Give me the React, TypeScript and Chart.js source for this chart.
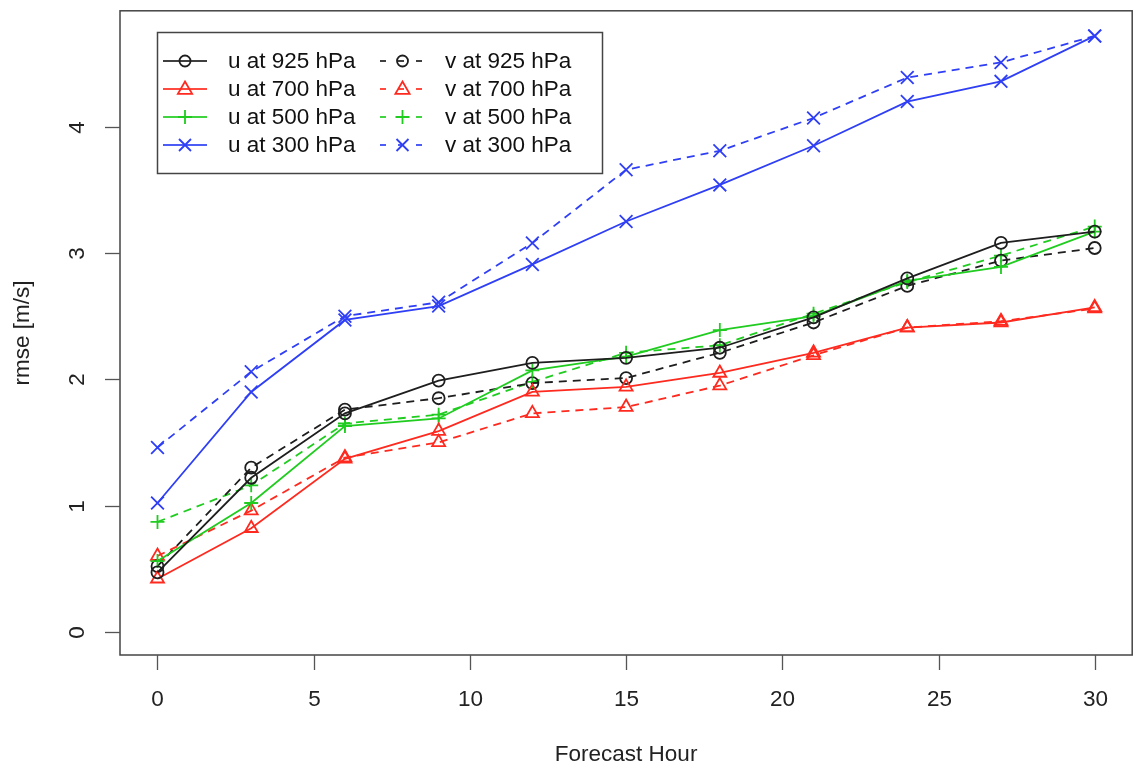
import React, { useEffect, useRef } from "react";
import { Chart, registerables } from "chart.js";

Chart.register(...registerables);

const hours = [0, 3, 6, 9, 12, 15, 18, 21, 24, 27, 30];
const u925 = [0.47, 1.22, 1.73, 1.99, 2.13, 2.17, 2.25, 2.49, 2.80, 3.08, 3.17];
const v925 = [0.52, 1.30, 1.76, 1.85, 1.97, 2.01, 2.21, 2.45, 2.74, 2.94, 3.04];
const u700 = [0.42, 0.82, 1.37, 1.59, 1.90, 1.94, 2.05, 2.21, 2.41, 2.45, 2.57];
const v700 = [0.60, 0.96, 1.38, 1.50, 1.73, 1.78, 1.95, 2.19, 2.41, 2.46, 2.56];
const u500 = [0.56, 1.02, 1.63, 1.69, 2.07, 2.18, 2.39, 2.50, 2.78, 2.89, 3.17];
const v500 = [0.87, 1.16, 1.65, 1.72, 1.98, 2.21, 2.27, 2.52, 2.77, 2.98, 3.21];
const u300 = [1.02, 1.90, 2.47, 2.58, 2.91, 3.25, 3.54, 3.85, 4.20, 4.36, 4.72];
const v300 = [1.46, 2.06, 2.50, 2.61, 3.08, 3.66, 3.81, 4.07, 4.39, 4.51, 4.72];

const xTicks = [0, 5, 10, 15, 20, 25, 30];
const yTicks = [0, 1, 2, 3, 4];
const xTitle = "Forecast Hour";
const yTitle = "rmse [m/s]";

const BLACK = "#1e1e1e";
const RED = "#ff2a1f";
const GREEN = "#1fcc1f";
const BLUE = "#2f3ff5";
const FONT = '22.5px "Liberation Sans", Arial, sans-serif';

type Series = { label: string; values: number[]; color: string; marker: string; dashed: boolean };

const seriesList: Series[] = [
  { label: "u at 925 hPa", values: u925, color: BLACK, marker: "circle", dashed: false },
  { label: "u at 700 hPa", values: u700, color: RED, marker: "triangle", dashed: false },
  { label: "u at 500 hPa", values: u500, color: GREEN, marker: "cross", dashed: false },
  { label: "u at 300 hPa", values: u300, color: BLUE, marker: "crossRot", dashed: false },
  { label: "v at 925 hPa", values: v925, color: BLACK, marker: "circle", dashed: true },
  { label: "v at 700 hPa", values: v700, color: RED, marker: "triangle", dashed: true },
  { label: "v at 500 hPa", values: v500, color: GREEN, marker: "cross", dashed: true },
  { label: "v at 300 hPa", values: v300, color: BLUE, marker: "crossRot", dashed: true },
];

const markerRadius: Record<string, number> = { circle: 6, triangle: 7.5, cross: 7, crossRot: 9 };

function drawMarker(ctx: CanvasRenderingContext2D, kind: string, x: number, y: number, color: string) {
  ctx.save();
  ctx.strokeStyle = color;
  ctx.lineWidth = 1.8;
  ctx.setLineDash([]);
  ctx.beginPath();
  if (kind === "circle") {
    ctx.arc(x, y, 5.5, 0, Math.PI * 2);
  } else if (kind === "triangle") {
    const r = 7.5;
    ctx.moveTo(x, y - r);
    ctx.lineTo(x + r * 0.95, y + r * 0.65);
    ctx.lineTo(x - r * 0.95, y + r * 0.65);
    ctx.closePath();
  } else if (kind === "cross") {
    ctx.moveTo(x - 7, y);
    ctx.lineTo(x + 7, y);
    ctx.moveTo(x, y - 7);
    ctx.lineTo(x, y + 7);
  } else {
    ctx.moveTo(x - 6, y - 6);
    ctx.lineTo(x + 6, y + 6);
    ctx.moveTo(x - 6, y + 6);
    ctx.lineTo(x + 6, y - 6);
  }
  ctx.stroke();
  ctx.restore();
}

const rPlotPlugin = {
  id: "rPlot",
  afterDraw(chart: any) {
    const ctx: CanvasRenderingContext2D = chart.ctx;
    const xs = chart.scales.x;
    const ys = chart.scales.y;
    const area = chart.chartArea;
    ctx.save();
    // box
    ctx.strokeStyle = "#444";
    ctx.lineWidth = 1.5;
    ctx.setLineDash([]);
    ctx.strokeRect(area.left, area.top, area.right - area.left, area.bottom - area.top);

    ctx.font = FONT;
    ctx.fillStyle = "#222";
    ctx.strokeStyle = "#555";
    ctx.lineWidth = 1.3;
    // x ticks
    ctx.textAlign = "center";
    ctx.textBaseline = "middle";
    for (const v of xTicks) {
      const px = Math.round(xs.getPixelForValue(v)) + 0.5;
      ctx.beginPath();
      ctx.moveTo(px, area.bottom);
      ctx.lineTo(px, area.bottom + 15);
      ctx.stroke();
      ctx.fillText(String(v), px, area.bottom + 45);
    }
    // y ticks
    for (const v of yTicks) {
      const py = Math.round(ys.getPixelForValue(v)) + 0.5;
      ctx.beginPath();
      ctx.moveTo(area.left, py);
      ctx.lineTo(area.left - 15, py);
      ctx.stroke();
      ctx.save();
      ctx.translate(78, py);
      ctx.rotate(-Math.PI / 2);
      ctx.fillText(String(v), 0, 0);
      ctx.restore();
    }
    // titles
    ctx.fillText(xTitle, (area.left + area.right) / 2, area.bottom + 100);
    ctx.save();
    ctx.translate(23, (area.top + area.bottom) / 2);
    ctx.rotate(-Math.PI / 2);
    ctx.fillText(yTitle, 0, 0);
    ctx.restore();

    // legend
    const lx = 157, ly = 32, lw = 445, lh = 141;
    ctx.fillStyle = "#fff";
    ctx.fillRect(lx, ly, lw, lh);
    ctx.strokeStyle = "#444";
    ctx.lineWidth = 1.5;
    ctx.strokeRect(lx + 0.5, ly + 0.5, lw, lh);
    const rows = [61, 89, 117, 145];
    seriesList.forEach((s, i) => {
      const col = s.dashed ? 1 : 0;
      const row = i % 4;
      const y = rows[row];
      const x0 = col === 0 ? 163 : 380;
      const x1 = col === 0 ? 207 : 425;
      const mx = (x0 + x1) / 2;
      const tx = col === 0 ? 228 : 445;
      ctx.save();
      ctx.strokeStyle = s.color;
      ctx.globalAlpha = 0.85;
      ctx.lineWidth = 1.8;
      ctx.setLineDash(s.dashed ? [6, 12] : []);
      ctx.beginPath();
      ctx.moveTo(x0, y);
      ctx.lineTo(x1, y);
      ctx.stroke();
      ctx.restore();
      drawMarker(ctx, s.marker, mx, y, s.color);
      ctx.fillStyle = "#111";
      ctx.textAlign = "left";
      ctx.textBaseline = "middle";
      ctx.font = FONT;
      ctx.fillText(s.label, tx, y + 1);
    });
    ctx.restore();
  },
};

export default function App() {
  const ref = useRef<HTMLCanvasElement | null>(null);
  useEffect(() => {
    if (!ref.current) return;
    const chart = new Chart(ref.current, {
      type: "line",
      data: {
        datasets: seriesList.map((s) => ({
          label: s.label,
          data: hours.map((h, i) => ({ x: h, y: s.values[i] })),
          borderColor: s.color,
          borderWidth: 1.8,
          borderDash: s.dashed ? [8, 6] : [],
          pointStyle: s.marker as any,
          pointRadius: markerRadius[s.marker],
          pointBorderColor: s.color,
          pointBackgroundColor: "rgba(0,0,0,0)",
          pointBorderWidth: 1.8,
          tension: 0,
          fill: false,
        })),
      },
      options: {
        animation: false,
        responsive: true,
        maintainAspectRatio: false,
        layout: { padding: { top: 8, right: 7, left: 0, bottom: 0 } },
        plugins: { legend: { display: false }, tooltip: { enabled: false } },
        scales: {
          x: {
            type: "linear",
            min: -1.2,
            max: 31.2,
            grid: { display: false },
            border: { display: false },
            ticks: { display: false },
            afterFit: (s: any) => {
              s.height = 116;
            },
          },
          y: {
            type: "linear",
            min: -0.184,
            max: 4.919,
            grid: { display: false },
            border: { display: false },
            ticks: { display: false },
            afterFit: (s: any) => {
              s.width = 120;
            },
          },
        },
      },
      plugins: [rPlotPlugin],
    });
    return () => chart.destroy();
  }, []);
  return (
    <div style={{ position: "fixed", left: 0, top: 0, width: 1143, height: 771, background: "#fff" }}>
      <canvas ref={ref} />
    </div>
  );
}
